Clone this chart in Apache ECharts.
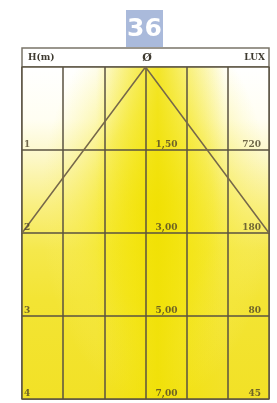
<!DOCTYPE html>
<html>
<head>
<meta charset="utf-8">
<script src="https://cdn.jsdelivr.net/npm/echarts@6/dist/echarts.min.js"></script>
<style>
  html, body { margin: 0; padding: 0; background: #ffffff; }
  #chart { width: 277px; height: 403px; }
</style>
</head>
<body>
<div id="chart"></div>
<script>
// hauteur de montage (m), diametre du faisceau, eclairement
var heights = [1, 2, 3, 4];
var diameters = ['1,50', '3,00', '5,00', '7,00'];
var luxValues = [720, 180, 80, 45];
// cone du faisceau : sommet au centre, bords a H=2
var coneX = [-3, 0, 3];
var coneY = [2, 0, 2];
var badgeText = '36';
var headerLeft = 'H(m)';
var headerMid = 'Ø';
var headerRight = 'LUX';

var chart = echarts.init(document.getElementById('chart'), null, { renderer: 'canvas' });

var lineColor = '#5a5240';
var textColor = '#4e4428';

// fond jaune (lumiere)
function renderGlow(params, api) {
  var p0 = api.coord([-3, 0]);
  var p1 = api.coord([3, 4]);
  var w = p1[0] - p0[0], h = p1[1] - p0[1];
  var c = api.coord([0.25, 1.7]);
  return {
    type: 'group',
    children: [
      {
        type: 'rect',
        shape: { x: p0[0], y: p0[1], width: w, height: h },
        style: {
          fill: new echarts.graphic.LinearGradient(0, 0, 0, 1, [
            { offset: 0, color: '#ffffff' },
            { offset: 0.16, color: '#fffef2' },
            { offset: 0.28, color: '#fcf7c4' },
            { offset: 0.42, color: '#f9ef80' },
            { offset: 0.55, color: '#f5e84c' },
            { offset: 0.7, color: '#f3e434' },
            { offset: 1, color: '#f2e126' }
          ])
        }
      },
      {
        type: 'circle',
        shape: { cx: c[0], cy: c[1], r: 115 },
        scaleY: 1.7,
        originX: c[0], originY: c[1],
        style: {
          fill: new echarts.graphic.RadialGradient(0.5, 0.5, 0.5, [
            { offset: 0, color: 'rgba(242,226,0,0.85)' },
            { offset: 0.5, color: 'rgba(245,232,30,0.55)' },
            { offset: 1, color: 'rgba(250,240,120,0)' }
          ])
        }
      },
      {
        type: 'rect',
        shape: { x: p0[0], y: p0[1], width: w, height: h },
        style: {
          fill: new echarts.graphic.LinearGradient(0, 0, 1, 0, [
            { offset: 0.3, color: 'rgba(242,226,0,0)' },
            { offset: 0.45, color: 'rgba(242,226,0,0.5)' },
            { offset: 0.55, color: 'rgba(240,224,0,0.8)' },
            { offset: 0.66, color: 'rgba(242,226,0,0.45)' },
            { offset: 0.82, color: 'rgba(242,226,0,0)' }
          ])
        }
      }
    ]
  };
}

function labelSeries(xVal, texts, align, offset) {
  return {
    type: 'scatter',
    symbolSize: 0,
    silent: true,
    z: 7,
    data: heights.map(function (hv, i) { return { value: [xVal, hv], name: String(texts[i]) }; }),
    label: {
      show: true,
      position: 'inside',
      formatter: '{b}',
      align: align,
      verticalAlign: 'bottom',
      offset: offset,
      color: textColor,
      fontFamily: 'DejaVu Serif',
      fontWeight: 'bold',
      fontSize: 9
    }
  };
}

var option = {
  animation: false,
  backgroundColor: '#ffffff',
  grid: {
    left: 22, right: 8, top: 67, bottom: 4,
    show: true,
    borderColor: lineColor,
    borderWidth: 1.5,
    backgroundColor: 'transparent'
  },
  xAxis: {
    type: 'value', min: -3, max: 3, interval: 1, z: 5,
    axisLine: { show: false }, axisTick: { show: false }, axisLabel: { show: false },
    splitLine: { show: true, lineStyle: { color: lineColor, width: 1.5 } }
  },
  yAxis: {
    type: 'value', min: 0, max: 4, interval: 1, inverse: true, z: 5,
    axisLine: { show: false }, axisTick: { show: false }, axisLabel: { show: false },
    splitLine: { show: true, lineStyle: { color: lineColor, width: 1.5 } }
  },
  graphic: [
    {
      type: 'rect',
      shape: { x: 126, y: 10, width: 37, height: 37 },
      style: { fill: '#aabadb' }
    },
    {
      type: 'text',
      x: 144.5, y: 29,
      style: {
        text: badgeText, fill: '#ffffff', align: 'center', verticalAlign: 'middle',
        font: 'bold 25px "DejaVu Sans"'
      }
    },
    {
      type: 'rect',
      shape: { x: 22, y: 48, width: 247, height: 19 },
      style: { fill: '#ffffff', stroke: '#7a7468', lineWidth: 1.5 }
    },
    {
      type: 'text', x: 28, y: 58,
      style: { text: headerLeft, fill: '#3e3a30', verticalAlign: 'middle', font: 'bold 9px "DejaVu Serif"' }
    },
    {
      type: 'text', x: 147, y: 58,
      style: { text: headerMid, fill: '#3e3a30', align: 'center', verticalAlign: 'middle', font: 'bold 11px "DejaVu Serif"' }
    },
    {
      type: 'text', x: 265, y: 58,
      style: { text: headerRight, fill: '#3e3a30', align: 'right', verticalAlign: 'middle', font: 'bold 9px "DejaVu Serif"' }
    }
  ],
  series: [
    {
      type: 'custom',
      silent: true,
      clip: true,
      z: 1,
      renderItem: renderGlow,
      data: [[0, 0]]
    },
    {
      type: 'line',
      silent: true,
      z: 6,
      symbol: 'none',
      data: coneX.map(function (x, i) { return [x, coneY[i]]; }),
      lineStyle: { color: '#76684a', width: 1.5 }
    },
    labelSeries(-3, heights, 'left', [2, -1]),
    labelSeries(0, diameters, 'left', [10, -1]),
    labelSeries(3, luxValues, 'right', [-8, -1])
  ]
};
chart.setOption(option);
</script>
</body>
</html>
